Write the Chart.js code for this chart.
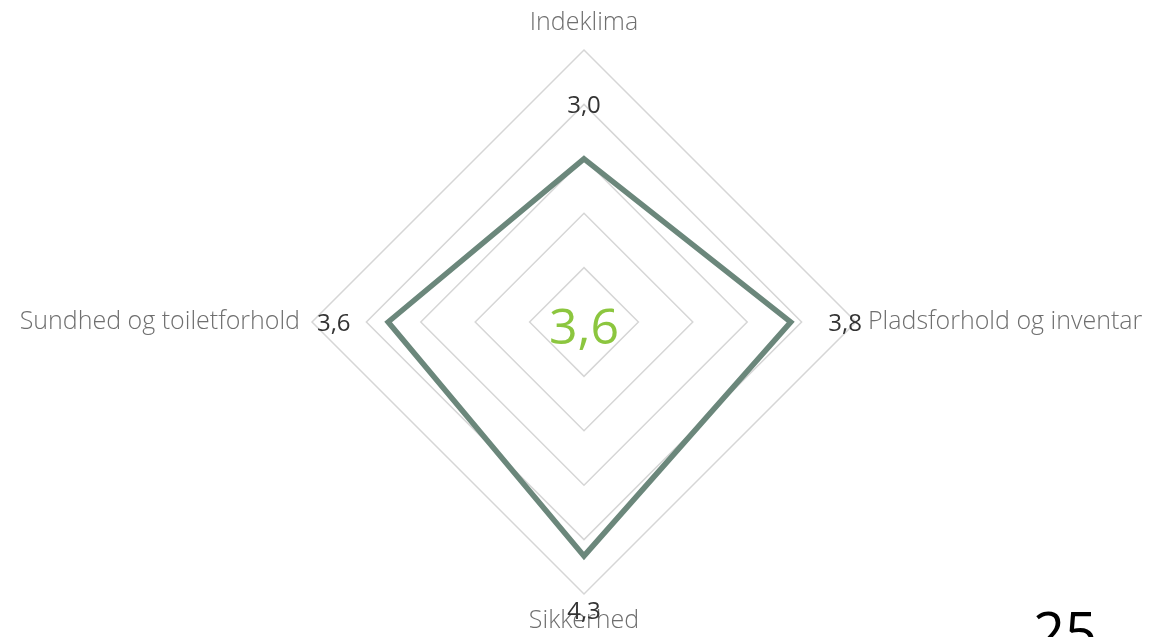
<!DOCTYPE html>
<html>
<head>
<meta charset="utf-8">
<script src="https://cdn.jsdelivr.net/npm/chart.js@4/dist/chart.umd.min.js"></script>
<style>
  html, body { margin: 0; padding: 0; background: #fff; overflow: hidden; }
  #wrap { position: relative; width: 1155px; height: 637px; }
</style>
</head>
<body>
<div id="wrap"><canvas id="c" width="1155" height="637"></canvas></div>
<script>
const categories = ['Indeklima', 'Pladsforhold og inventar', 'Sikkerhed', 'Sundhed og toiletforhold'];
const values = [3.0, 3.8, 4.3, 3.6];
const centerLabel = '3,6';
const cornerLabel = '25';
const scaleTicks = [0, 1, 2, 3, 4, 5];

const FONT = "'Open Sans', 'Noto Sans', sans-serif";
const fmt = v => v.toFixed(1).replace('.', ',');

const extras = {
  id: 'extras',
  afterDatasetsDraw(chart) {
    const ctx = chart.ctx;
    const r = chart.scales.r;
    ctx.save();
    ctx.font = '400 24px ' + FONT;
    ctx.fillStyle = '#333333';
    ctx.textAlign = 'center';
    ctx.textBaseline = 'middle';
    const step = r.getDistanceFromCenterForValue(1) - r.getDistanceFromCenterForValue(0);
    values.forEach((v, i) => {
      const p = r.getPointPosition(i, r.getDistanceFromCenterForValue(v) + step);
      ctx.fillText(fmt(v), p.x, p.y + 2);
    });
    ctx.font = '400 50px ' + FONT;
    ctx.fillStyle = '#8cc63f';
    ctx.fillText(centerLabel, r.xCenter, r.yCenter + 8);
    ctx.font = '400 56px ' + FONT;
    ctx.fillStyle = '#000000';
    ctx.textAlign = 'left';
    ctx.textBaseline = 'alphabetic';
    ctx.fillText(cornerLabel, 1033, 653);
    ctx.restore();
  }
};

new Chart(document.getElementById('c'), {
  type: 'radar',
  data: {
    labels: categories,
    datasets: [{
      data: values,
      borderColor: '#6b877b',
      borderWidth: 5.5,
      borderJoinStyle: 'miter',
      backgroundColor: 'rgba(0,0,0,0)',
      fill: false,
      pointRadius: 0,
      pointHoverRadius: 0,
      tension: 0
    }]
  },
  options: {
    responsive: false,
    animation: false,
    layout: { padding: { top: 8, bottom: 0, left: 8, right: 0 } },
    plugins: { legend: { display: false }, tooltip: { enabled: false } },
    scales: {
      r: {
        min: scaleTicks[0],
        max: scaleTicks[scaleTicks.length - 1],
        afterBuildTicks(scale) { scale.ticks = scaleTicks.map(v => ({ value: v })); },
        ticks: { display: false, stepSize: 1 },
        angleLines: { display: false },
        grid: { color: '#d6d6d6', lineWidth: 1.5, circular: false },
        pointLabels: {
          color: '#6f6f6f',
          padding: 12,
          font: { family: FONT, size: 25, weight: '300' }
        }
      }
    }
  },
  plugins: [extras]
});
</script>
</body>
</html>
